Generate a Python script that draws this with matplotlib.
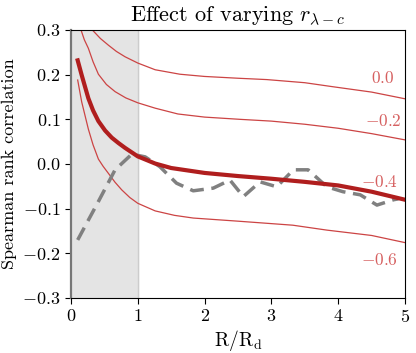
import matplotlib
matplotlib.use("Agg")
import matplotlib.pyplot as plt

plt.rcParams['font.family'] = 'serif'
plt.rcParams['font.serif'] = ['cmr10']
plt.rcParams['mathtext.fontset'] = 'cm'
plt.rcParams['axes.formatter.use_mathtext'] = True

# thin curves for different r values
x_r00 = [0.32, 0.44, 0.56, 0.68, 0.81, 1.0, 1.26, 1.63, 2.0, 2.5, 2.93, 3.5, 3.92, 4.5, 5.0]
y_r00 = [0.300, 0.281, 0.266, 0.252, 0.240, 0.226, 0.211, 0.201, 0.196, 0.192, 0.189, 0.182, 0.173, 0.161, 0.146]

x_r02 = [0.15, 0.2, 0.26, 0.33, 0.41, 0.53, 0.66, 0.82, 1.0, 1.26, 1.6, 2.0, 2.53, 3.0, 3.5, 4.0, 4.5, 5.0]
y_r02 = [0.300, 0.278, 0.259, 0.229, 0.201, 0.178, 0.162, 0.148, 0.137, 0.125, 0.112, 0.105, 0.100, 0.096, 0.089, 0.080, 0.068, 0.054]

x_r04 = [0.1, 0.16, 0.26, 0.33, 0.41, 0.51, 0.61, 0.71, 0.81, 1.0, 1.26, 1.5, 2.0, 2.5, 3.0, 3.5, 4.0, 4.5, 5.0]
y_r04 = [0.232, 0.199, 0.147, 0.120, 0.096, 0.075, 0.059, 0.047, 0.036, 0.017, 0.001, -0.009, -0.020, -0.027, -0.033, -0.040, -0.048, -0.062, -0.080]

x_r06 = [0.1, 0.16, 0.26, 0.33, 0.41, 0.48, 0.56, 0.66, 0.76, 0.88, 1.0, 1.26, 1.55, 1.83, 2.5, 3.32, 3.83, 4.5, 5.0]
y_r06 = [0.188, 0.139, 0.078, 0.043, 0.011, -0.005, -0.021, -0.041, -0.058, -0.075, -0.088, -0.105, -0.115, -0.121, -0.128, -0.137, -0.148, -0.160, -0.176]

# dashed observed curve
x_obs = [0.1, 0.41, 0.66, 0.91, 1.11, 1.33, 1.58, 1.83, 2.13, 2.38, 2.58, 2.83, 3.08, 3.33, 3.55, 3.83, 4.07, 4.33, 4.58, 4.83, 4.9]
y_obs = [-0.170, -0.084, -0.013, 0.022, 0.016, -0.006, -0.043, -0.060, -0.054, -0.036, -0.073, -0.040, -0.051, -0.013, -0.013, -0.051, -0.062, -0.069, -0.092, -0.080, -0.078]

labels = [r'$0.0$', r'$-0.2$', r'$-0.4$', r'$-0.6$']
label_x = [4.67, 4.67, 4.62, 4.62]
label_y = [0.192, 0.097, -0.040, -0.216]

thin_col = '#cc4444'
thick_col = '#b01e1e'
label_col = '#d66060'

fig = plt.figure(figsize=(4.16, 3.53), dpi=100)
ax = fig.add_axes([71/416, 1 - 298/353, (405-71)/416, (298-30)/353])

ax.axvspan(0, 1, color='#e4e4e4', zorder=0)
ax.axvline(1, color='#cccccc', lw=1.0, zorder=0.5)

ax.plot(x_r00, y_r00, color=thin_col, lw=0.9)
ax.plot(x_r02, y_r02, color=thin_col, lw=0.9)
ax.plot(x_r06, y_r06, color=thin_col, lw=0.9)
ax.plot(x_obs, y_obs, color='#808080', lw=2.5, dashes=(4, 2.2))
ax.plot(x_r04, y_r04, color=thick_col, lw=3.0)

for t, lx, ly in zip(labels, label_x, label_y):
    ax.text(lx, ly, t, color=label_col, fontsize=12.5, ha='center', va='center')

ax.spines['left'].set_color('#777777')
ax.spines['left'].set_linewidth(1.6)

ax.set_xlim(0, 5)
ax.set_ylim(-0.3, 0.3)
ax.set_xticks([0, 1, 2, 3, 4, 5])
ax.set_yticks([-0.3, -0.2, -0.1, 0.0, 0.1, 0.2, 0.3])
ax.tick_params(labelsize=13, direction='out', length=4)
ax.set_xlabel(r'$\mathrm{R/R_d}$', fontsize=14, labelpad=2)
ax.set_ylabel('Spearman rank correlation', fontsize=13)
ax.set_title(r'Effect of varying $r_{\lambda-c}$', fontsize=16)

fig.savefig('out.png', dpi=100)
